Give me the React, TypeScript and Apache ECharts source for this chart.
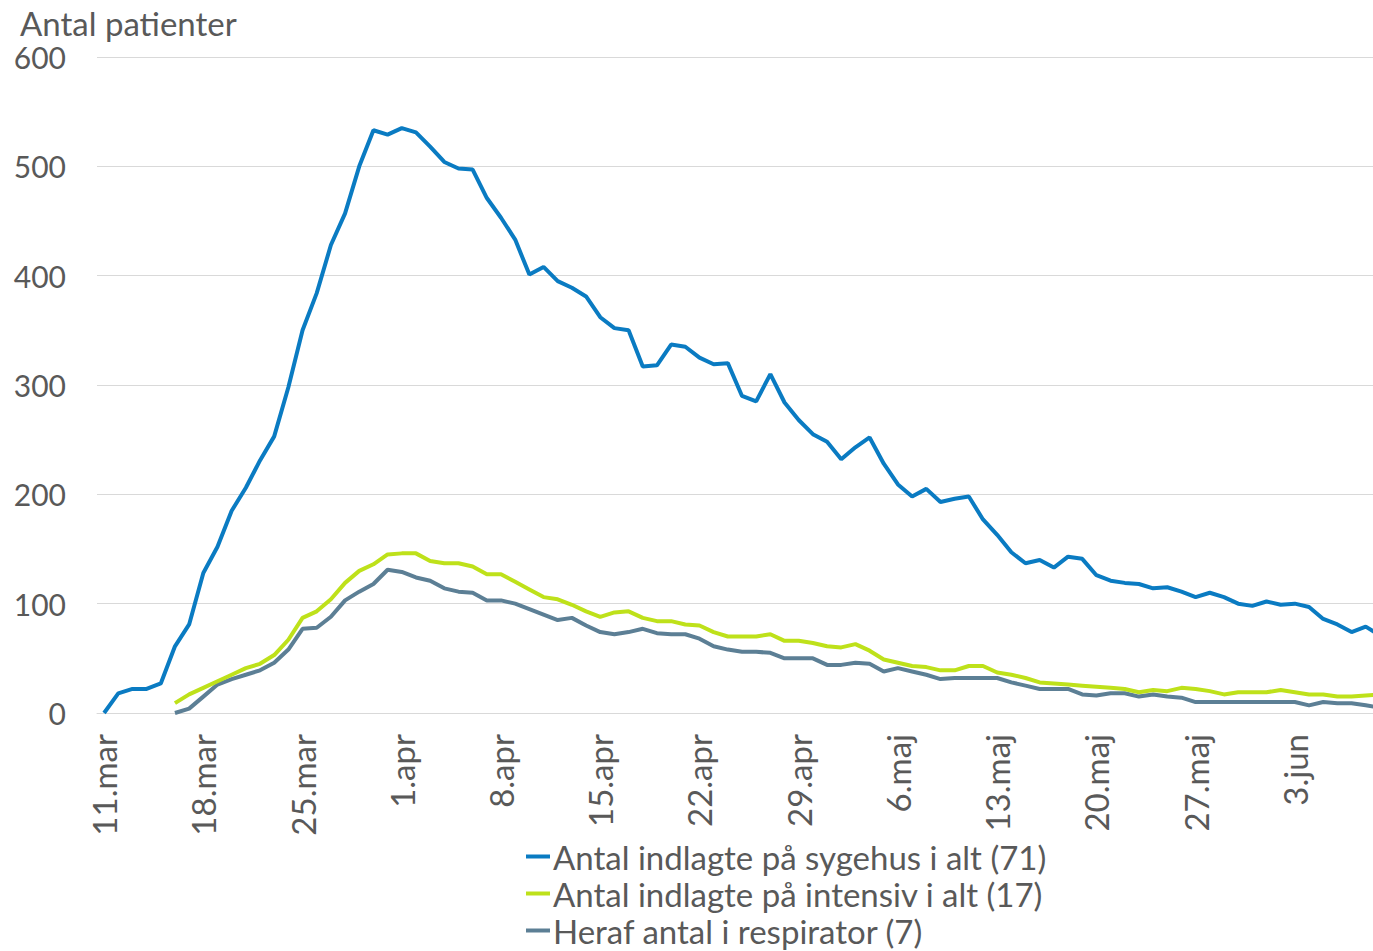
import { useEffect, useRef } from "react";
import * as echarts from "echarts";

// Category (day) labels: 11.mar .. 9.jun
const dateSpans: [string, number, number][] = [
  ["mar", 11, 31],
  ["apr", 1, 30],
  ["maj", 1, 31],
  ["jun", 1, 9],
];
const categories: string[] = dateSpans.flatMap(([m, a, b]) =>
  Array.from({ length: b - a + 1 }, (_, k) => `${a + k}.${m}`)
);

const yTicks = [0, 100, 200, 300, 400, 500, 600];

const seriesNames = [
  "Antal indlagte på sygehus i alt (71)",
  "Antal indlagte på intensiv i alt (17)",
  "Heraf antal i respirator (7)",
];

const hospital: (number | null)[] = [
  0, 18, 22, 22, 27, 61, 81, 128, 152, 185,
  206, 231, 253, 298, 350, 384, 428, 457, 500, 533,
  529, 535, 531, 518, 504, 498, 497, 471, 453, 433,
  401, 408, 395, 389, 381, 362, 352, 350, 317, 318,
  337, 335, 325, 319, 320, 290, 285, 310, 284, 268,
  255, 248, 232, 243, 252, 228, 209, 198, 205, 193,
  196, 198, 177, 163, 147, 137, 140, 133, 143, 141,
  126, 121, 119, 118, 114, 115, 111, 106, 110, 106,
  100, 98, 102, 99, 100, 97, 86, 81, 74, 79,
  71,
];

const intensive: (number | null)[] = [
  null, null, null, null, null, 9, 17, 23, 29, 35,
  41, 45, 53, 67, 87, 93, 104, 119, 130, 136,
  145, 146, 146, 139, 137, 137, 134, 127, 127, 120,
  113, 106, 104, 99, 93, 88, 92, 93, 87, 84,
  84, 81, 80, 74, 70, 70, 70, 72, 66, 66,
  64, 61, 60, 63, 57, 49, 46, 43, 42, 39,
  39, 43, 43, 37, 35, 32, 28, 27, 26, 25,
  24, 23, 22, 19, 21, 20, 23, 22, 20, 17,
  19, 19, 19, 21, 19, 17, 17, 15, 15, 16,
  17,
];

const respirator: (number | null)[] = [
  null, null, null, null, null, 0, 4, 15, 26, 31,
  35, 39, 46, 58, 77, 78, 88, 103, 111, 118,
  131, 129, 124, 121, 114, 111, 110, 103, 103, 100,
  95, 90, 85, 87, 80, 74, 72, 74, 77, 73,
  72, 72, 68, 61, 58, 56, 56, 55, 50, 50,
  50, 44, 44, 46, 45, 38, 41, 38, 35, 31,
  32, 32, 32, 32, 28, 25, 22, 22, 22, 17,
  16, 18, 18, 15, 17, 15, 14, 10, 10, 10,
  10, 10, 10, 10, 10, 7, 10, 9, 9, 7,
  5,
];

const colors = ["#0A7BC2", "#BEE11A", "#5C7F95"];
const FONT = "Lato, 'Open Sans', sans-serif";
const TEXT = "#595959";

export default function App() {
  const ref = useRef<HTMLDivElement>(null);

  useEffect(() => {
    if (!ref.current) return;
    const chart = echarts.init(ref.current, null, { renderer: "svg" });
    const data = [hospital, intensive, respirator];
    chart.setOption({
      animation: false,
      backgroundColor: "#ffffff",
      textStyle: { fontFamily: FONT },
      graphic: [
        {
          type: "text",
          left: 20,
          top: 6,
          style: {
            text: "Antal patienter",
            fill: TEXT,
            font: `33px ${FONT}`,
            lineHeight: 33,
          },
        },
      ],
      grid: { left: 97, right: 0, top: 57, bottom: 238, containLabel: false },
      xAxis: {
        type: "category",
        data: categories,
        boundaryGap: true,
        axisLine: { show: true, lineStyle: { color: "#D9D9D9", width: 1 } },
        axisTick: { show: false },
        axisLabel: {
          interval: 6,
          rotate: 90,
          margin: 21,
          color: TEXT,
          fontSize: 33,
          fontFamily: FONT,
        },
        splitLine: { show: false },
      },
      yAxis: {
        type: "value",
        min: yTicks[0],
        max: yTicks[yTicks.length - 1],
        interval: 100,
        axisLine: { show: false },
        axisTick: { show: false },
        axisLabel: {
          margin: 31,
          color: TEXT,
          fontSize: 30,
          lineHeight: 28,
          fontFamily: FONT,
        },
        splitLine: { lineStyle: { color: "#D9D9D9", width: 1 } },
      },
      legend: seriesNames.map((name, k) => ({
        orient: "vertical",
        left: 526,
        top: 840 + k * 37,
        padding: 0,
        itemWidth: 24,
        itemHeight: 4,
        icon: "rect",
        textStyle: {
          color: TEXT,
          fontSize: 33,
          fontFamily: FONT,
          lineHeight: 30,
          padding: [0, 0, 0, -2],
        },
        data: [name],
      })),
      series: seriesNames.map((name, k) => ({
        name,
        type: "line",
        data: data[k],
        showSymbol: false,
        symbol: "none",
        color: colors[k],
        lineStyle: { color: colors[k], width: 4 },
        z: 3 - k,
      })),
    });
    return () => chart.dispose();
  }, []);

  return (
    <div
      style={{
        position: "fixed",
        left: 0,
        top: 0,
        width: 1373,
        height: 951,
        overflow: "hidden",
        background: "#fff",
      }}
    >
      <div ref={ref} style={{ width: 1387, height: 951 }} />
    </div>
  );
}
